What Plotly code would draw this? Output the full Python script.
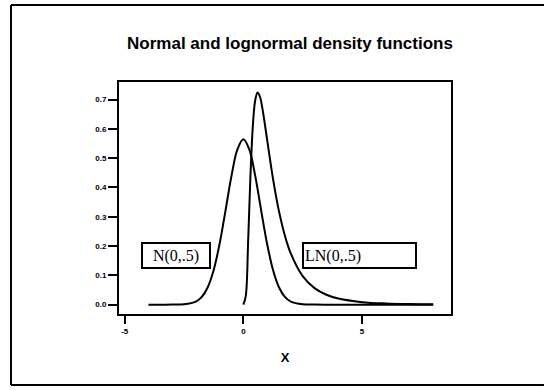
import plotly.graph_objects as go

# Normal N(0, .5) density
normal_x = [-4, -3.5, -3, -2.5, -2, -1.75, -1.5, -1.25, -1, -0.75, -0.5, -0.25, 0,
            0.25, 0.5, 0.75, 1, 1.25, 1.5, 1.75, 2, 2.5, 3, 4, 5, 6, 7, 8]
normal_y = [0.0, 0.0, 0.0001, 0.0011, 0.0103, 0.0262, 0.0594, 0.1183, 0.2076, 0.3219, 0.4394, 0.5297, 0.5642,
            0.5297, 0.4394, 0.3219, 0.2076, 0.1183, 0.0594, 0.0262, 0.0103, 0.0011, 0.0001, 0.0, 0.0, 0.0, 0.0, 0.0]

# Lognormal LN(0, .5) density
lognormal_x = [0, 0.1, 0.2, 0.3, 0.4, 0.5, 0.6, 0.7, 0.8, 1.0, 1.25, 1.5, 1.75, 2, 2.5, 3, 3.5, 4, 5, 6, 7, 8]
lognormal_y = [0.0, 0.0281, 0.2116, 0.4414, 0.6092, 0.6979, 0.7244, 0.7097, 0.6710, 0.5642, 0.4294, 0.3191,
               0.2357, 0.1745, 0.0975, 0.0563, 0.0336, 0.0206, 0.0085, 0.0038, 0.0018, 0.0009]

x_ticks = [-5, 0, 5]
y_ticks = [0.0, 0.1, 0.2, 0.3, 0.4, 0.5, 0.6, 0.7]
y_ticktext = ["0.0", "0.1", "0.2", "0.3", "0.4", "0.5", "0.6", "0.7"]

fig = go.Figure()
fig.add_trace(go.Scatter(x=normal_x, y=normal_y, mode="lines", line=dict(color="black", width=2, shape="spline"),
                         name="N(0,.5)", showlegend=False))
fig.add_trace(go.Scatter(x=lognormal_x, y=lognormal_y, mode="lines", line=dict(color="black", width=2, shape="spline"),
                         name="LN(0,.5)", showlegend=False))

tickfont = dict(family="Liberation Sans", size=8, color="black")
border = dict(color="black", width=2)
fig.update_layout(
    width=555, height=390,
    margin=dict(l=119, r=104, t=82, b=76),
    paper_bgcolor="white", plot_bgcolor="white",
    title=dict(text="<b>Normal and lognormal density functions</b>", x=0.5225, xanchor="center",
               y=1 - 43 / 390, yanchor="middle", yref="container",
               font=dict(family="Liberation Sans", size=17, color="black")),
    xaxis=dict(range=[-5.24, 8.75], tickvals=x_ticks, ticktext=["<b>%d</b>" % v for v in x_ticks],
               showgrid=False, zeroline=False, showline=True, linecolor="black", linewidth=2, mirror=True,
               ticks="outside", ticklen=8, tickwidth=2, tickcolor="black", tickfont=tickfont,
               title=dict(text="<b>X</b>", font=dict(family="Liberation Sans", size=13, color="black"), standoff=18)),
    yaxis=dict(range=[-0.032, 0.76], tickvals=y_ticks, ticktext=["<b>%s</b>" % t for t in y_ticktext],
               showgrid=False, zeroline=False, showline=True, linecolor="black", linewidth=2, mirror=True,
               ticks="outside", ticklen=9, tickwidth=2, tickcolor="black", tickfont=tickfont),
    annotations=[
        dict(x=-2.82, y=0.169, xref="x", yref="y", text="N(0,.5)", showarrow=False,
             font=dict(family="Liberation Serif", size=16, color="black"),
             bordercolor="black", borderwidth=2, borderpad=1, bgcolor="white", width=64, height=21),
        dict(x=4.9, y=0.169, xref="x", yref="y", text="LN(0,.5)", showarrow=False, align="left",
             font=dict(family="Liberation Serif", size=16, color="black"),
             bordercolor="black", borderwidth=2, borderpad=1, bgcolor="white", width=109, height=21),
    ],
    shapes=[
        dict(type="line", xref="paper", yref="paper", x0=-0.3253, x1=-0.3253, y0=-0.306, y1=1.3319, line=border),
        dict(type="line", xref="paper", yref="paper", x0=-0.3253, x1=1.28, y0=1.3319, y1=1.3319, line=border),
        dict(type="line", xref="paper", yref="paper", x0=-0.3253, x1=1.28, y0=-0.306, y1=-0.306, line=border),
    ],
)

fig.write_html("out.html")
